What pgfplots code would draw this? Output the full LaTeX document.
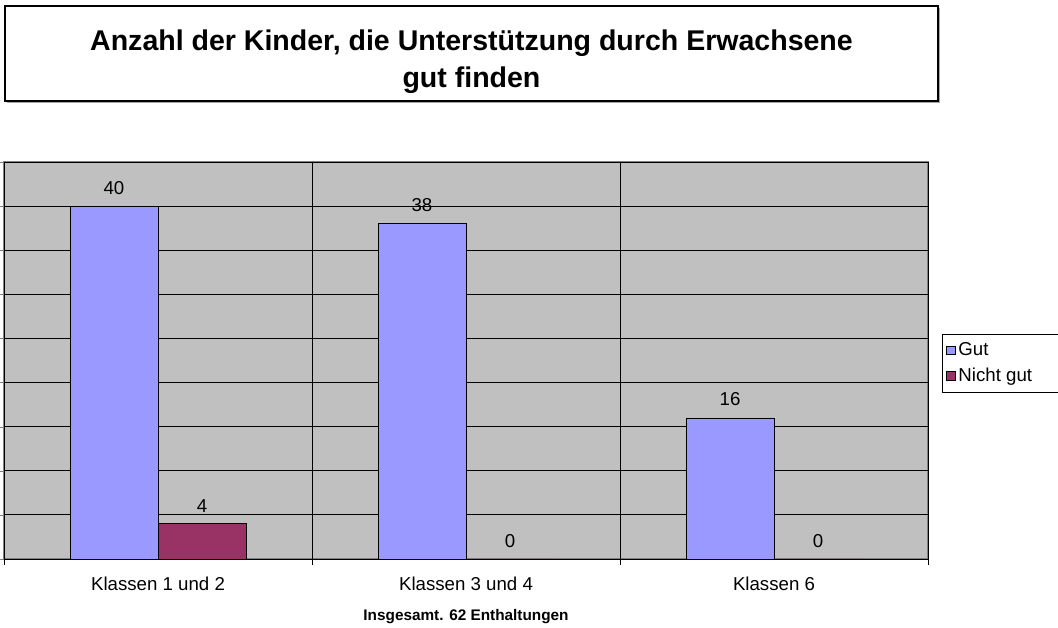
\documentclass[border=0pt]{standalone}
\usepackage{fontspec}
\setmainfont{Liberation Sans}
\usepackage{pgfplots}
\pgfplotsset{compat=1.18}
\definecolor{gutc}{HTML}{9999FF}
\definecolor{nichtc}{HTML}{993366}
\definecolor{bgc}{HTML}{C0C0C0}
\definecolor{framec}{HTML}{808080}
\begin{document}
\begin{tikzpicture}[x=0.75pt,y=0.75pt]
\useasboundingbox (0,0) rectangle (1058,628);
% title box
\fill[gray!70] (7,620) rectangle (940,525);
\draw[fill=white,line width=1.1pt] (5,622) rectangle (938,527);
\node[align=center,font=\fontsize{21.4}{28}\selectfont\bfseries] at (471.5,566.5)
  {Anzahl der Kinder, die Unterstützung durch Erwachsene\\gut finden};
\begin{axis}[
  at={(3pt,51.75pt)}, anchor=south west,
  scale only axis, width=693pt, height=297.75pt,
  ybar=0pt, bar width=66pt,
  xmin=-0.5, xmax=2.5, ymin=0, ymax=45,
  xtick={0,1,2},
  xticklabels={Klassen 1 und 2, Klassen 3 und 4, Klassen 6},
  minor xtick={-0.5,0.5,1.5,2.5},
  xminorgrids, minor x grid style={black, line width=0.6pt},
  major x tick style={draw=none},
  minor x tick style={black},
  minor tick length=4.5pt,
  ytick={0,5,...,45}, yticklabels={},
  ymajorgrids, major y grid style={black, line width=0.6pt},
  major tick length=3pt,
  tick align=outside,
  axis x line*=bottom, axis y line*=left,
  axis line style={black, line width=0.6pt, -},
  axis background/.style={fill=bgc, draw=framec, line width=1.2pt},
  xticklabel style={font=\fontsize{14}{16}\selectfont, yshift=-7pt},
  xlabel={\textbf{Insgesamt. 62 Enthaltungen}},
  xlabel style={font=\fontsize{11.5}{13}\selectfont, yshift=-7pt},
  /pgf/number format/assume math mode=true,
  nodes near coords={\pgfmathprintnumber{\pgfplotspointmeta}},
  every node near coord/.append style={font=\fontsize{14}{16}\selectfont, black, inner sep=5pt, yshift=3.5pt},
  legend style={at={(1.0152,0.567)}, anchor=north west, draw=black, fill=white,
    font=\fontsize{14}{16}\selectfont, row sep=3.5pt, inner xsep=3pt, inner ysep=4.5pt},
  legend cell align=left,
  legend image code/.code={\draw[#1, draw=black, line width=0.5pt] (0pt,-3.3pt) rectangle (6.6pt,3.3pt);},
]
\addplot[fill=gutc, draw=black, line width=0.5pt] coordinates {(0,40) (1,38) (2,16)};
\addplot[fill=nichtc, draw=black, line width=0.5pt] coordinates {(0,4) (1,0) (2,0)};
\legend{\makebox[80pt][l]{Gut}, \makebox[80pt][l]{Nicht gut}}
\end{axis}
\end{tikzpicture}
\end{document}
